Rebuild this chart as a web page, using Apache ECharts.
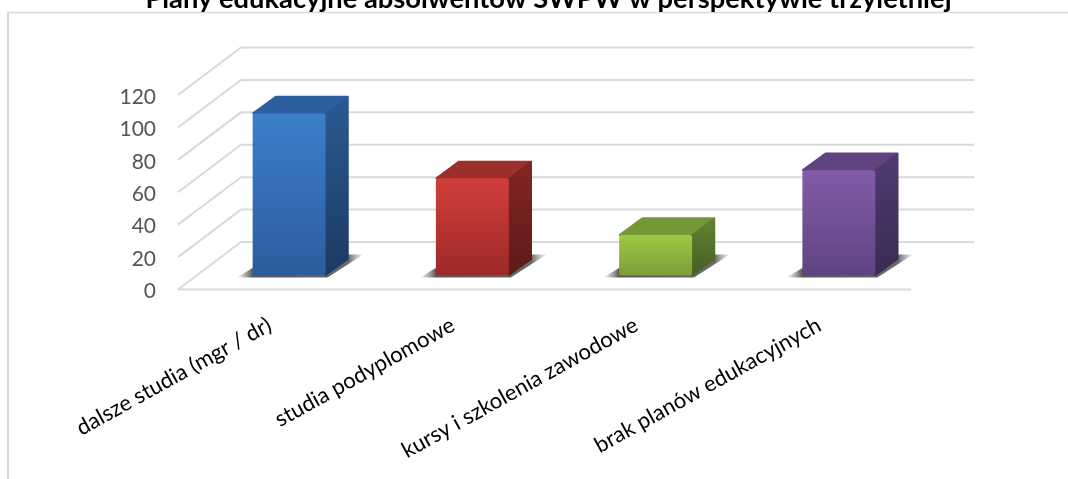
<!DOCTYPE html>
<html>
<head>
<meta charset="utf-8">
<style>html,body{margin:0;padding:0;background:#fff}#c{width:1068px;height:479px}</style>
<script src="https://cdn.jsdelivr.net/npm/echarts@6/dist/echarts.min.js"></script>
</head>
<body>
<div id="c"></div>
<script>
const titleText = 'Plany edukacyjne absolwentów SWPW w perspektywie trzyletniej';
const categories = ['dalsze studia (mgr / dr)', 'studia podyplomowe', 'kursy i szkolenia zawodowe', 'brak planów edukacyjnych'];
const values = [100, 60, 25, 65];
const yTicks = [0, 20, 40, 60, 80, 100, 120];
const frontColors = [['#3d7eca', '#2b5d9d'], ['#d23e3a', '#9d2a28'], ['#9fc845', '#7b9e38'], ['#825ba9', '#5f4481']];
const topColors = ['#2c5f9f', '#9c2f2c', '#749737', '#5f4480'];
const sideColors = [['#2a5a92', '#1c3a63'], ['#812624', '#5e1a19'], ['#648232', '#465e24'], ['#503b72', '#3a2a52']];

const DX = 63, DY = -47.5;         // depth of the chart floor
const BAR_FRONT = 0.295, BAR_DEPTH = 0.36, BAR_W = 0.398;
const gridGray = '#d9d9d9';
const vgrad = (a, b) => ({type:'linear', x:0, y:0, x2:0, y2:1, colorStops:[{offset:0,color:a},{offset:1,color:b}]});

function renderWalls(params, api) {
  const cs = params.coordSys, L = cs.x, R = cs.x + cs.width;
  const v = api.value(1), y = api.coord([0, v])[1];
  const style = {stroke: gridGray, lineWidth: 2, fill: null};
  const kids = [
    {type:'polyline', shape:{points:[[L, y], [L + DX, y + DY], [R + DX, y + DY]]}, style}
  ];
  if (v === 0) kids.push({type:'line', shape:{x1:L, y1:y, x2:R, y2:y}, style});
  return {type:'group', children:kids};
}

function renderBar(params, api) {
  const i = api.value(0), v = api.value(1);
  const band = api.size([1, 0])[0], w = band * BAR_W;
  const c0 = api.coord([i, 0]), c1 = api.coord([i, v]);
  const fx = c0[0] + DX * BAR_FRONT - w / 2 + 0.9, x1 = fx + w;
  const yb = c0[1] + DY * BAR_FRONT, yt = c1[1] + DY * BAR_FRONT;
  const sx = DX * BAR_DEPTH, sy = DY * BAR_DEPTH;
  const edge = (fill) => ({fill, stroke: fill, lineWidth: 2, lineJoin: 'round'});
  const shadowL = fx - 16, shadowR = x1 + sx + 15, span = shadowR - shadowL;
  return {type:'group', children:[
    {type:'polygon',
     shape:{points:[[shadowL, yb + 2], [x1 + 2, yb + 2], [shadowR, yb + sy - 4], [fx + sx, yb + sy - 4]]},
     style:{fill:{type:'linear', x:0, y:0, x2:1, y2:0, colorStops:[
       {offset:0, color:'rgba(110,110,110,0)'},
       {offset:16 / span, color:'rgba(70,70,70,0.9)'},
       {offset:(span - 15) / span, color:'rgba(80,80,80,0.85)'},
       {offset:1, color:'rgba(130,130,130,0.1)'}]}}},
    {type:'polygon', shape:{points:[[fx + 0.5, yt], [x1 - 0.5, yt], [x1 + sx - 0.5, yt + sy + 0.5], [fx + sx + 0.5, yt + sy + 0.5]]}, style:edge(topColors[i])},
    {type:'polygon', shape:{points:[[x1, yt + 0.5], [x1 + sx - 0.5, yt + sy + 1], [x1 + sx - 0.5, yb + sy + 0.5], [x1, yb - 0.5]]},
     style:Object.assign(edge(sideColors[i][0]), {fill:vgrad(sideColors[i][0], sideColors[i][1]),
       stroke:vgrad(sideColors[i][0], sideColors[i][1])})},
    {type:'rect', shape:{x:fx, y:yt, width:w, height:yb - yt, r:2.5},
     style:{fill:vgrad(frontColors[i][0], frontColors[i][1])}}
  ]};
}

const chart = echarts.init(document.getElementById('c'), null, {renderer:'canvas'});
chart.setOption({
  animation:false,
  backgroundColor:'#ffffff',
  title:{text:titleText, left:543.5, textAlign:'center', top:-19,
    textStyle:{fontFamily:'Lato', fontWeight:'bold', fontSize:27.3, color:'#000000'}},
  graphic:[
    {type:'line', z:-1, shape:{x1:7.5, y1:12.5, x2:1068, y2:12.5}, style:{stroke:gridGray, lineWidth:1.5}},
    {type:'line', z:-1, shape:{x1:8, y1:12, x2:8, y2:479}, style:{stroke:gridGray, lineWidth:2}}
  ],
  grid:{left:178, top:95, width:733, height:194.5},
  xAxis:{type:'category', data:categories,
    axisLine:{show:false}, axisTick:{show:false},
    axisLabel:{interval:0, rotate:29, margin:34, fontFamily:'Lato', fontSize:22, color:'#000000'}},
  yAxis:{type:'value', min:0, max:120, interval:20,
    axisLine:{show:false}, axisTick:{show:false}, splitLine:{show:false},
    axisLabel:{margin:22, verticalAlign:'top', lineHeight:4, fontFamily:'Lato', fontSize:21, color:'#555555', formatter:(v)=>String(v)}},
  series:[
    {type:'custom', silent:true, renderItem:renderWalls, encode:{x:0, y:1}, data:yTicks.map(v => [0, v]), z:1},
    {type:'custom', silent:true, renderItem:renderBar, encode:{x:0, y:1}, data:values.map((v, i) => [i, v]), z:2}
  ]
});
</script>
</body>
</html>
